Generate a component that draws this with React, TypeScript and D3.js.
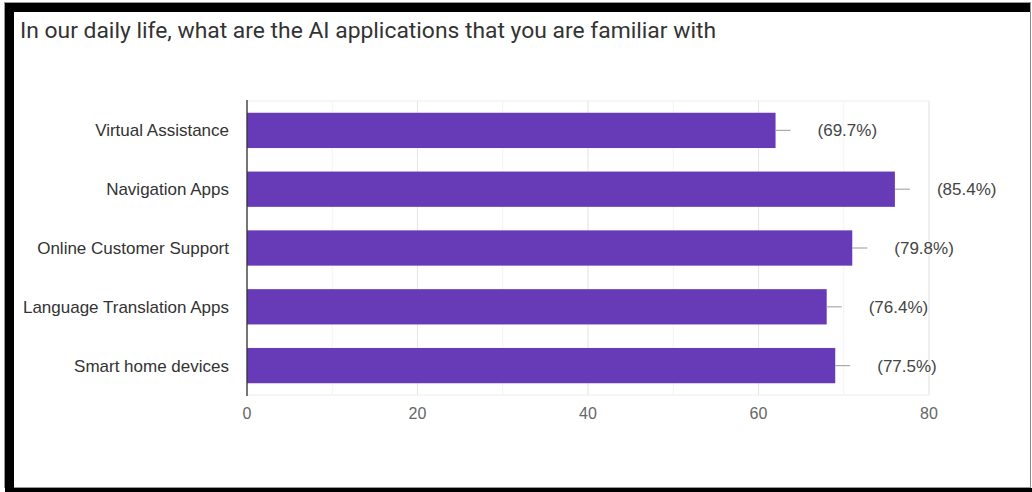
import React from "react";
import * as d3 from "d3";

const title = "In our daily life, what are the AI applications that you are familiar with";
const categories = [
  "Virtual Assistance",
  "Navigation Apps",
  "Online Customer Support",
  "Language Translation Apps",
  "Smart home devices",
];
const counts = [62, 76, 71, 68, 69];
const percentLabels = ["(69.7%)", "(85.4%)", "(79.8%)", "(76.4%)", "(77.5%)"];
const majorTicks = [0, 20, 40, 60, 80];
const minorTicks = [10, 30, 50, 70];

const W = 1032;
const H = 492;

export default function App() {
  const x = d3.scaleLinear().domain([0, 80]).range([247, 929]);
  const y = d3
    .scaleBand<string>()
    .domain(categories)
    .range([101, 395])
    .paddingInner(0.4)
    .paddingOuter(0.2);
  const top = 101;
  const bottom = 395;
  const font = "'Liberation Sans', Arial, sans-serif";

  return (
    <svg
      width={W}
      height={H}
      style={{ position: "absolute", left: 0, top: 0, background: "#fff" }}
    >
      <rect x={0} y={0} width={W} height={H} fill="#fff" />
      {/* frame */}
      <rect x={4.5} y={2.5} width={1026} height={485} fill="none" stroke="#999" strokeWidth={1} />
      <rect x={5} y={3} width={W - 7} height={9} fill="#000" />
      <rect x={5} y={3} width={9} height={H - 4} fill="#000" />
      <rect x={5} y={488} width={W - 5} height={4} fill="#000" />
      <line x1={1030.5} y1={12} x2={1030.5} y2={488} stroke="#888" />

      <text
        x={20}
        y={38}
        fontFamily="Roboto, 'Noto Sans', sans-serif"
        fontSize={21.5}
        fill="#333"
        textLength={696}
        lengthAdjust="spacingAndGlyphs"
      >
        {title}
      </text>

      {/* grid */}
      {minorTicks.map((t) => (
        <line key={"mi" + t} x1={x(t)} x2={x(t)} y1={top} y2={bottom} stroke="#f3f3f3" strokeWidth={1} />
      ))}
      {majorTicks.map((t) => (
        <line key={"ma" + t} x1={x(t)} x2={x(t)} y1={top} y2={bottom} stroke="#e6e6e6" strokeWidth={1.2} />
      ))}
      <line x1={x(0)} x2={x(80)} y1={top} y2={top} stroke="#ececec" />
      <line x1={x(0)} x2={x(80)} y1={bottom} y2={bottom} stroke="#ececec" />

      {/* bars */}
      {categories.map((c, i) => {
        const by = y(c) as number;
        const bh = y.bandwidth();
        const xe = x(counts[i]);
        const cy = by + bh / 2;
        return (
          <g key={c}>
            <rect x={x(0)} y={by} width={xe - x(0)} height={bh} fill="#673ab7" />
            <line x1={xe} x2={xe + 15} y1={cy} y2={cy} stroke="#aaa" strokeWidth={1.2} />
            <text
              x={xe + 42}
              y={cy + 6}
              fontFamily={font}
              fontSize={17}
              fill="#444"
            >
              {percentLabels[i]}
            </text>
            <text
              x={229}
              y={cy + 6}
              textAnchor="end"
              fontFamily={font}
              fontSize={17}
              fill="#333"
            >
              {c}
            </text>
          </g>
        );
      })}

      {/* axis line */}
      <line x1={x(0)} x2={x(0)} y1={top - 1} y2={bottom + 1} stroke="#333" strokeWidth={1.3} />

      {/* tick labels */}
      {majorTicks.map((t) => (
        <text
          key={"tl" + t}
          x={x(t)}
          y={419}
          textAnchor="middle"
          fontFamily={font}
          fontSize={16}
          fill="#666"
        >
          {t}
        </text>
      ))}
    </svg>
  );
}
